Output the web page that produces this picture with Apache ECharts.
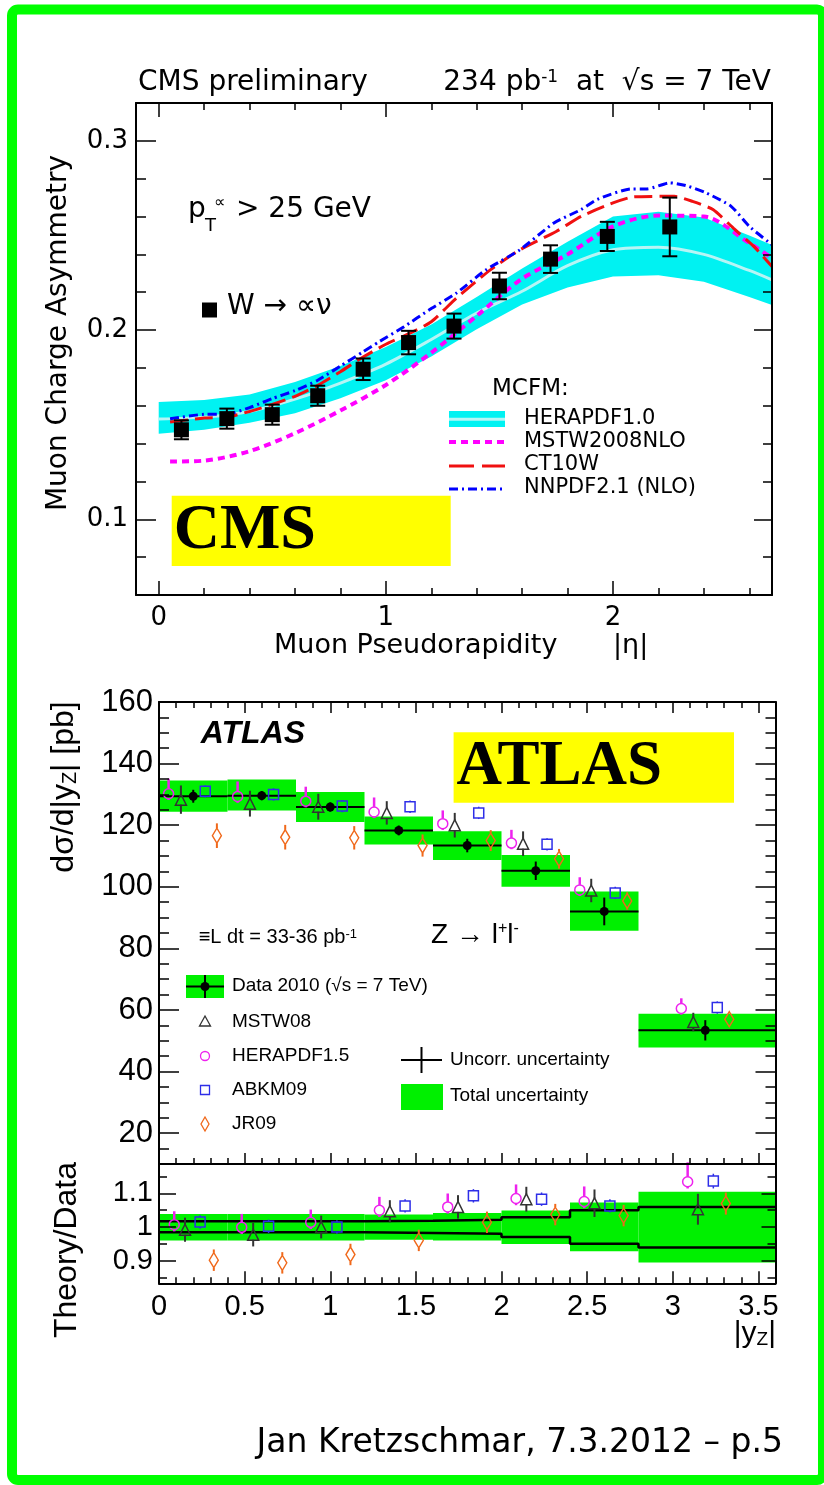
<!DOCTYPE html>
<html>
<head>
<meta charset="utf-8">
<title>W charge asymmetry and Z rapidity</title>
<script src="https://cdn.jsdelivr.net/npm/echarts@6.0.0/dist/echarts.min.js"></script>
<style>
html,body{margin:0;padding:0;background:#fff;}
#main{width:824px;height:1485px;}
</style>
</head>
<body>
<div id="main"></div>
<script>
// ---------- CMS: muon charge asymmetry ----------
var cmsEta  = [0.1, 0.3, 0.5, 0.7, 0.9, 1.1, 1.3, 1.5, 1.725, 1.975, 2.25];
var cmsAsym = [0.1473, 0.1532, 0.1553, 0.1653, 0.1793, 0.1934, 0.2021, 0.2233, 0.2375, 0.2495, 0.2545];
var cmsErr  = [0.0050, 0.0053, 0.0053, 0.0053, 0.0057, 0.0062, 0.0066, 0.0070, 0.0073, 0.0077, 0.0155];

// HERAPDF1.0 band
var heraEta  = [0, 0.2, 0.4, 0.6, 0.8, 1.0, 1.2, 1.4, 1.6, 1.8, 2.0, 2.2, 2.4, 2.6, 2.7];
var heraUp   = [0.162, 0.163, 0.166, 0.1725, 0.181, 0.191, 0.203, 0.2175, 0.2325, 0.2467, 0.260, 0.2625, 0.2595, 0.250, 0.245];
var heraMid  = [0.153, 0.154, 0.157, 0.1635, 0.172, 0.182, 0.195, 0.209, 0.2205, 0.234, 0.2424, 0.2438, 0.240, 0.2315, 0.2265];
var heraDown = [0.1452, 0.1473, 0.151, 0.156, 0.164, 0.1735, 0.186, 0.2005, 0.2135, 0.2225, 0.2283, 0.229, 0.2255, 0.2175, 0.2133];

var mstwEta = [0.05, 0.2, 0.4, 0.6, 0.8, 1.0, 1.2, 1.4, 1.6, 1.8, 2.0, 2.2, 2.4, 2.6, 2.7];
var mstwA   = [0.1305, 0.131, 0.136, 0.1455, 0.1575, 0.171, 0.188, 0.2075, 0.2272, 0.240, 0.2548, 0.2605, 0.2600, 0.246, 0.238];

var ct10Eta = [0.05, 0.2, 0.3, 0.4, 0.5, 0.6, 0.7, 0.8, 0.9, 1.0, 1.1, 1.2, 1.31, 1.46, 1.59, 1.75, 1.86, 2.0, 2.09, 2.27, 2.35, 2.44, 2.53, 2.62, 2.7];
var ct10A   = [0.1514, 0.1535, 0.154, 0.157, 0.1607, 0.165, 0.1708, 0.178, 0.1858, 0.1925, 0.198, 0.2044, 0.2168, 0.2318, 0.2424, 0.2521, 0.2601, 0.2672, 0.2704, 0.2707, 0.268, 0.2637, 0.2539, 0.2442, 0.2336];

var nnEta = [0.05, 0.2, 0.3, 0.4, 0.5, 0.6, 0.7, 0.8, 0.9, 0.97, 1.08, 1.19, 1.31, 1.44, 1.59, 1.74, 1.86, 1.93, 2.08, 2.15, 2.25, 2.32, 2.41, 2.52, 2.6, 2.7];
var nnA   = [0.1531, 0.1555, 0.1556, 0.159, 0.1638, 0.168, 0.1735, 0.181, 0.1885, 0.1938, 0.2018, 0.2106, 0.2195, 0.2318, 0.2424, 0.2566, 0.2637, 0.269, 0.2746, 0.2746, 0.2778, 0.2764, 0.2725, 0.2654, 0.2548, 0.2451];

var cmsXMajor = [0, 1, 2];
var cmsXMinor = [0.2, 0.4, 0.6, 0.8, 1.2, 1.4, 1.6, 1.8, 2.2, 2.4, 2.6];
var cmsYMajor = [0.1, 0.2, 0.3];
var cmsYMinor = [0.08, 0.12, 0.14, 0.16, 0.18, 0.22, 0.24, 0.26, 0.28];

// ---------- ATLAS: Z rapidity ----------
var binLo = [0, 0.4, 0.8, 1.2, 1.6, 2.0, 2.4, 2.8];
var binHi = [0.4, 0.8, 1.2, 1.6, 2.0, 2.4, 2.8, 3.6];
var dataX  = [0.2, 0.6, 1.0, 1.4, 1.8, 2.2, 2.6, 3.19];
var dataY  = [129.4, 129.6, 125.9, 118.3, 113.4, 105.2, 92.0, 53.4];
var dataUnc = [2.1, 1.5, 1.5, 1.6, 2.2, 3.0, 4.5, 3.3];
var totHi  = [134.5, 134.8, 130.8, 122.8, 118.0, 110.3, 98.5, 58.8];
var totLo  = [124.4, 124.8, 121.0, 113.7, 108.7, 100.0, 85.7, 47.8];

var herX  = [0.056, 0.459, 0.857, 1.256, 1.657, 2.058, 2.457, 3.05];
var herY  = [130.2, 129.3, 127.8, 124.3, 120.5, 114.2, 99.0, 60.5];
var herUp = [4.9, 4.9, 4.7, 4.7, 4.3, 4.3, 4.1, 3.3];
var herDn = [2.0, 2.0, 2.0, 2.0, 2.0, 2.0, 2.0, 2.0];
var mstwX = [0.128, 0.531, 0.93, 1.33, 1.727, 2.126, 2.524, 3.12];
var mstwY = [128.3, 127.0, 126.0, 124.0, 120.0, 114.0, 98.8, 56.1];
var mstwE = [4.6, 4.2, 4.2, 3.8, 4.0, 4.0, 3.8, 3.0];
var abkmX = [0.27, 0.669, 1.07, 1.466, 1.867, 2.266, 2.664, 3.26];
var abkmY = [131.0, 130.0, 126.2, 126.0, 124.0, 113.8, 98.0, 60.8];
var abkmE = [2.0, 2.0, 2.0, 2.0, 2.0, 2.0, 2.0, 2.0];
var jrX   = [0.338, 0.737, 1.14, 1.539, 1.937, 2.336, 2.734, 3.33];
var jrY   = [116.6, 116.1, 115.9, 113.4, 115.0, 109.1, 95.4, 57.0];
var jrE   = [4.0, 4.0, 3.8, 3.6, 3.4, 3.2, 2.8, 2.4];

// ratio pad
var rTotHi = [1.039, 1.039, 1.039, 1.037, 1.042, 1.049, 1.073, 1.105];
var rTotLo = [0.960, 0.960, 0.960, 0.962, 0.960, 0.949, 0.928, 0.894];
var rUncHi = [1.017, 1.017, 1.017, 1.019, 1.022, 1.029, 1.050, 1.060];
var rUncLo = [0.984, 0.984, 0.984, 0.982, 0.980, 0.970, 0.950, 0.939];

var rHerX  = [0.089, 0.483, 0.886, 1.287, 1.686, 2.085, 2.483, 3.087];
var rHerY  = [1.007, 0.999, 1.014, 1.050, 1.060, 1.085, 1.076, 1.135];
var rHerUp = [0.040, 0.040, 0.038, 0.040, 0.040, 0.042, 0.045, 0.058];
var rHerDn = [0.020, 0.020, 0.020, 0.020, 0.020, 0.020, 0.020, 0.020];
var rMstwX = [0.152, 0.55, 0.947, 1.348, 1.746, 2.145, 2.543, 3.147];
var rMstwY = [0.992, 0.977, 1.000, 1.047, 1.060, 1.083, 1.071, 1.053];
var rMstwE = [0.036, 0.035, 0.034, 0.033, 0.035, 0.037, 0.041, 0.046];
var rAbkmX = [0.24, 0.64, 1.039, 1.437, 1.836, 2.234, 2.633, 3.237];
var rAbkmY = [1.015, 1.002, 1.000, 1.063, 1.093, 1.083, 1.063, 1.137];
var rAbkmE = [0.020, 0.020, 0.020, 0.020, 0.020, 0.020, 0.020, 0.022];
var rJrX   = [0.32, 0.72, 1.118, 1.517, 1.915, 2.314, 2.713, 3.31];
var rJrY   = [0.901, 0.893, 0.918, 0.960, 1.014, 1.037, 1.034, 1.070];
var rJrE   = [0.032, 0.032, 0.032, 0.032, 0.032, 0.032, 0.032, 0.033];

var atXMajor = [0, 0.5, 1, 1.5, 2, 2.5, 3, 3.5];
var atXMinor = [0.1, 0.2, 0.3, 0.4, 0.6, 0.7, 0.8, 0.9, 1.1, 1.2, 1.3, 1.4, 1.6, 1.7, 1.8, 1.9,
                2.1, 2.2, 2.3, 2.4, 2.6, 2.7, 2.8, 2.9, 3.1, 3.2, 3.3, 3.4];
var atYMajor = [20, 40, 60, 80, 100, 120, 140, 160];
var atYMinor = [15, 25, 30, 35, 45, 50, 55, 65, 70, 75, 85, 90, 95, 105, 110, 115, 125, 130, 135, 145, 150, 155];
var rYMajor = [0.9, 1, 1.1];
var rYMinor = [0.85, 0.95, 1.05, 1.15];

// ---------- helpers ----------
function pairs(xs, ys) {
	var out = [];
	for (var i = 0; i < xs.length; i++) out.push([xs[i], ys[i]]);
	return out;
}
function errRows(xs, ys, dn, up) {
	var out = [];
	for (var i = 0; i < xs.length; i++) out.push([xs[i], ys[i], ys[i] - dn[i], ys[i] + up[i]]);
	return out;
}
function boxRows(lo, hi) {
	var out = [];
	for (var i = 0; i < binLo.length; i++) out.push([binLo[i], binHi[i], lo[i], hi[i]]);
	return out;
}
function stepRows(vals) {
	var out = pairs(binLo, vals);
	out.push([binHi[binHi.length - 1], vals[vals.length - 1]]);
	return out;
}

// axis that only draws a frame side and/or ticks
function axis(grid, pos, min, max, ticks, len, line, label) {
	return {
		type: 'value', gridIndex: grid, position: pos, min: min, max: max, z: 10,
		axisLine: {show: line, onZero: false, lineStyle: {color: '#000', width: 2}},
		axisTick: {show: ticks.length > 0, inside: true, length: len, customValues: ticks.length ? ticks : undefined,
			lineStyle: {color: '#000', width: 1.5}},
		axisLabel: label ? Object.assign({show: true, customValues: ticks, color: '#000'}, label) : {show: false},
		splitLine: {show: false}
	};
}

function errBar(color, w, gap, cap) {
	return function (params, api) {
		var c = api.coord([api.value(0), api.value(1)]);
		var lo = api.coord([api.value(0), api.value(2)]);
		var hi = api.coord([api.value(0), api.value(3)]);
		var kids = [];
		function seg(x1, y1, x2, y2) {
			kids.push({type: 'line', shape: {x1: x1, y1: y1, x2: x2, y2: y2}, style: {stroke: color, lineWidth: w}});
		}
		if (hi[1] < c[1] - gap) seg(c[0], c[1] - gap, c[0], hi[1]);
		if (lo[1] > c[1] + gap) seg(c[0], c[1] + gap, c[0], lo[1]);
		if (cap) {
			seg(c[0] - cap, hi[1], c[0] + cap, hi[1]);
			seg(c[0] - cap, lo[1], c[0] + cap, lo[1]);
		}
		return {type: 'group', children: kids};
	};
}
function boxItem(color) {
	return function (params, api) {
		var p0 = api.coord([api.value(0), api.value(3)]);
		var p1 = api.coord([api.value(1), api.value(2)]);
		return {type: 'rect', shape: {x: p0[0], y: p0[1], width: p1[0] - p0[0], height: p1[1] - p0[1]}, style: {fill: color}};
	};
}
function hLineItem(params, api) {
	var p0 = api.coord([api.value(0), api.value(2)]);
	var p1 = api.coord([api.value(1), api.value(2)]);
	return {type: 'line', shape: {x1: p0[0], y1: p0[1], x2: p1[0], y2: p1[1]}, style: {stroke: '#000', lineWidth: 2}};
}
// whole band as one polygon: rows are [x, low, high]
function bandItem(color) {
	return function (params, api) {
		if (params.dataIndex !== 0) return null;
		var n = params.dataInsideLength;
		var pts = [], j;
		for (j = 0; j < n; j++) pts.push(api.coord([api.value(0, j), api.value(2, j)]));
		for (j = n - 1; j >= 0; j--) pts.push(api.coord([api.value(0, j), api.value(1, j)]));
		return {type: 'polygon', shape: {points: pts}, style: {fill: color}};
	};
}

var GREEN = '#00f000';
var CYAN = '#00f2f2';
var MAG = '#ee22ee', GRAY = '#333333', BLUE = '#2e2ee8', ORANGE = '#f0681a';
var SANS = 'Liberation Sans';
var WIDE = 'DejaVu Sans';

// ---------- axes ----------
var cmsLab = {fontFamily: WIDE, fontSize: 26};
var xAxes = [
	axis(0, 'bottom', -0.1, 2.7, cmsXMajor, 14, true, Object.assign({margin: 10, formatter: function (v) { return String(v); }}, cmsLab)),
	axis(0, 'bottom', -0.1, 2.7, cmsXMinor, 7, false),
	axis(0, 'top', -0.1, 2.7, cmsXMajor, 14, true),
	axis(0, 'top', -0.1, 2.7, cmsXMinor, 7, false),
	axis(1, 'bottom', 0, 3.6, atXMajor, 11, true),
	axis(1, 'bottom', 0, 3.6, atXMinor, 6, false),
	axis(1, 'top', 0, 3.6, atXMajor, 11, true),
	axis(1, 'top', 0, 3.6, atXMinor, 6, false),
	axis(2, 'bottom', 0, 3.6, atXMajor, 12, true, {margin: 9, fontFamily: SANS, fontSize: 29, formatter: function (v) { return String(v); }}),
	axis(2, 'bottom', 0, 3.6, atXMinor, 6, false),
	axis(2, 'top', 0, 3.6, [], 0, true)
];
var yAxes = [
	axis(0, 'left', 0.06, 0.32, cmsYMajor, 20, true, Object.assign({margin: 8, formatter: function (v) { return v.toFixed(1); }}, cmsLab)),
	axis(0, 'left', 0.06, 0.32, cmsYMinor, 10, false),
	axis(0, 'right', 0.06, 0.32, cmsYMajor, 18, true),
	axis(0, 'right', 0.06, 0.32, cmsYMinor, 9, false),
	axis(1, 'left', 10, 160, atYMajor, 20, true, {margin: 6, fontFamily: SANS, fontSize: 31}),
	axis(1, 'left', 10, 160, atYMinor, 10, false),
	axis(1, 'right', 10, 160, atYMajor, 20, true),
	axis(1, 'right', 10, 160, atYMinor, 10, false),
	axis(2, 'left', 0.832, 1.188, rYMajor, 17, true, {margin: 6, fontFamily: SANS, fontSize: 29, formatter: function (v) { return String(v); }}),
	axis(2, 'left', 0.832, 1.188, rYMinor, 8, false),
	axis(2, 'right', 0.832, 1.188, rYMajor, 14, true),
	axis(2, 'right', 0.832, 1.188, rYMinor, 8, false)
];

// ---------- series ----------
var bandRows = [];
for (var i = 0; i < heraEta.length; i++) bandRows.push([heraEta[i], heraDown[i], heraUp[i]]);

function openMarker(name, xi, yi, xs, ys, symbol, size, color) {
	return {name: name, type: 'scatter', xAxisIndex: xi, yAxisIndex: yi, data: pairs(xs, ys), symbol: symbol, symbolSize: size, z: 6,
		itemStyle: {color: 'rgba(0,0,0,0)', borderColor: color, borderWidth: 1.5, opacity: 1}, silent: true};
}
function errSeries(xi, yi, rows, color, w, gap, cap, z) {
	return {type: 'custom', xAxisIndex: xi, yAxisIndex: yi, data: rows, renderItem: errBar(color, w, gap, cap),
		encode: {x: 0, y: [1, 2, 3]}, z: z || 5, silent: true};
}

var series = [
	// CMS band
	{name: 'HERAPDF1.0', type: 'custom', xAxisIndex: 0, yAxisIndex: 0, data: bandRows, renderItem: bandItem(CYAN),
		encode: {x: 0, y: [1, 2]}, z: 1, silent: true},
	{type: 'line', xAxisIndex: 0, yAxisIndex: 0, data: pairs(heraEta, heraMid), smooth: 0.3, symbol: 'none',
		lineStyle: {color: '#b6f5f5', width: 3}, z: 2, silent: true},
	{name: 'MSTW2008NLO', type: 'line', xAxisIndex: 0, yAxisIndex: 0, data: pairs(mstwEta, mstwA), smooth: 0.3, symbol: 'none',
		lineStyle: {color: '#ff00ff', width: 4, type: [7, 5]}, z: 3, silent: true},
	{name: 'CT10W', type: 'line', xAxisIndex: 0, yAxisIndex: 0, data: pairs(ct10Eta, ct10A), smooth: 0.2, symbol: 'none',
		lineStyle: {color: '#f01010', width: 3, type: [18, 7]}, z: 3, silent: true},
	{name: 'NNPDF2.1 (NLO)', type: 'line', xAxisIndex: 0, yAxisIndex: 0, data: pairs(nnEta, nnA), smooth: 0.2, symbol: 'none',
		lineStyle: {color: '#0000ff', width: 3, type: [9, 4, 2, 4]}, z: 3, silent: true},
	errSeries(0, 0, errRows(cmsEta, cmsAsym, cmsErr, cmsErr), '#000', 2, 0, 7.5, 4),
	{name: 'W', type: 'scatter', xAxisIndex: 0, yAxisIndex: 0, data: pairs(cmsEta, cmsAsym), symbol: 'rect', symbolSize: 15,
		itemStyle: {color: '#000', opacity: 1}, z: 5, silent: true},

	// ATLAS main
	{type: 'custom', xAxisIndex: 4, yAxisIndex: 4, data: boxRows(totLo, totHi), renderItem: boxItem(GREEN),
		encode: {x: [0, 1], y: [2, 3]}, z: 1, silent: true},
	{type: 'custom', xAxisIndex: 4, yAxisIndex: 4, data: boxRows(dataY, dataY), renderItem: hLineItem,
		encode: {x: [0, 1], y: [2, 3]}, z: 2, silent: true},
	errSeries(4, 4, errRows(herX, herY, herDn, herUp), MAG, 2.5, 5, 0),
	errSeries(4, 4, errRows(mstwX, mstwY, mstwE, mstwE), GRAY, 2, 5, 0),
	errSeries(4, 4, errRows(abkmX, abkmY, abkmE, abkmE), BLUE, 1.5, 5, 0),
	errSeries(4, 4, errRows(jrX, jrY, jrE, jrE), ORANGE, 2, 7.5, 0),
	openMarker('HERAPDF1.5', 4, 4, herX, herY, 'circle', 10, MAG),
	openMarker('MSTW08', 4, 4, mstwX, mstwY, 'triangle', 11, GRAY),
	openMarker('ABKM09', 4, 4, abkmX, abkmY, 'rect', 10, BLUE),
	openMarker('JR09', 4, 4, jrX, jrY, 'diamond', [9, 15], ORANGE),
	errSeries(4, 4, errRows(dataX, dataY, dataUnc, dataUnc), '#000', 2, 0, 0, 7),
	{name: 'Data 2010', type: 'scatter', xAxisIndex: 4, yAxisIndex: 4, data: pairs(dataX, dataY), symbol: 'circle', symbolSize: 9,
		itemStyle: {color: '#000', opacity: 1}, z: 8, silent: true},

	// ratio pad
	{type: 'custom', xAxisIndex: 8, yAxisIndex: 8, data: boxRows(rTotLo, rTotHi), renderItem: boxItem(GREEN),
		encode: {x: [0, 1], y: [2, 3]}, z: 1, silent: true},
	{type: 'line', xAxisIndex: 8, yAxisIndex: 8, data: stepRows(rUncHi), step: 'end', symbol: 'none',
		lineStyle: {color: '#000', width: 2.5}, z: 2, silent: true},
	{type: 'line', xAxisIndex: 8, yAxisIndex: 8, data: stepRows(rUncLo), step: 'end', symbol: 'none',
		lineStyle: {color: '#000', width: 2.5}, z: 2, silent: true},
	errSeries(8, 8, errRows(rHerX, rHerY, rHerDn, rHerUp), MAG, 2.5, 5, 0),
	errSeries(8, 8, errRows(rMstwX, rMstwY, rMstwE, rMstwE), GRAY, 2, 5, 0),
	errSeries(8, 8, errRows(rAbkmX, rAbkmY, rAbkmE, rAbkmE), BLUE, 1.5, 5, 0),
	errSeries(8, 8, errRows(rJrX, rJrY, rJrE, rJrE), ORANGE, 2, 7.5, 0),
	openMarker('HERAPDF1.5', 8, 8, rHerX, rHerY, 'circle', 10, MAG),
	openMarker('MSTW08', 8, 8, rMstwX, rMstwY, 'triangle', 11, GRAY),
	openMarker('ABKM09', 8, 8, rAbkmX, rAbkmY, 'rect', 10, BLUE),
	openMarker('JR09', 8, 8, rJrX, rJrY, 'diamond', [9, 15], ORANGE)
];

// ---------- texts and legend drawings ----------
function txt(x, y, s, font, align, extra) {
	var st = {text: s, font: font, fill: '#000', textAlign: align || 'left', align: align || 'left',
		textVerticalAlign: 'middle', verticalAlign: 'middle'};
	var el = {type: 'text', x: x, y: y, z: 30, silent: true, style: st};
	if (extra) {
		if (extra.rich) st.rich = extra.rich;
		if (extra.rotation) el.rotation = extra.rotation;
	}
	return el;
}
function richSet(family, size, small, smallSize) {
	return {
		m: {fontFamily: family, fontSize: size, fill: '#000', color: '#000'},
		sup: {fontFamily: family, fontSize: smallSize, fill: '#000', color: '#000', verticalAlign: 'top'},
		sub: {fontFamily: family, fontSize: smallSize, fill: '#000', color: '#000', verticalAlign: 'bottom'}
	};
}
function ln(x1, y1, x2, y2, color, w, dash) {
	var st = {stroke: color, lineWidth: w};
	if (dash) st.lineDash = dash;
	return {type: 'line', z: 30, silent: true, shape: {x1: x1, y1: y1, x2: x2, y2: y2}, style: st};
}
function box(x, y, w, h, fill) {
	return {type: 'rect', z: 29, silent: true, shape: {x: x, y: y, width: w, height: h}, style: {fill: fill}};
}

var graphics = [
	{type: 'rect', z: 40, silent: true, shape: {x: 12, y: 9.5, width: 811, height: 1470.5, r: 6},
		style: {fill: 'none', stroke: '#00ff00', lineWidth: 10}},

	// CMS header and annotations
	txt(138, 83, 'CMS preliminary', '28px "DejaVu Sans"'),
	txt(771, 83, '{m|234 pb}{sup|-1}{m|  at  √s = 7 TeV}', '28px "DejaVu Sans"', 'right', {rich: richSet(WIDE, 28, true, 17)}),
	txt(188, 210, 'p', '28px "DejaVu Sans"'),
	txt(205, 226, 'T', '18px "DejaVu Sans"'),
	txt(214, 203, '∝', '16px "DejaVu Sans"'),
	txt(236, 210, '> 25 GeV', '28px "DejaVu Sans"'),
	box(202, 302.5, 15, 15, '#000'),
	txt(227, 307, 'W → ∝ν', '28px "DejaVu Sans"'),
	txt(492, 389, 'MCFM:', '23px "DejaVu Sans"'),
	box(449, 411, 56, 16, CYAN),
	ln(449, 419.3, 505, 419.3, '#b6f5f5', 3),
	ln(449, 442, 505, 442, '#ff00ff', 4, [7, 5]),
	ln(449, 466, 505, 466, '#f01010', 3, [25, 8]),
	ln(449, 489, 505, 489, '#0000ff', 3, [9, 4, 2, 4]),
	txt(524, 419, 'HERAPDF1.0', '21px "DejaVu Sans"'),
	txt(524, 442, 'MSTW2008NLO', '21px "DejaVu Sans"'),
	txt(524, 465, 'CT10W', '21px "DejaVu Sans"'),
	txt(524, 488, 'NNPDF2.1 (NLO)', '21px "DejaVu Sans"'),
	box(171.7, 495.7, 279, 70.3, '#ffff00'),
	txt(173.7, 531, 'CMS', 'bold 64px "Liberation Serif"'),
	txt(274, 646, 'Muon Pseudorapidity', '27px "DejaVu Sans"'),
	txt(613, 646, '|η|', '27px "DejaVu Sans"'),
	txt(58.5, 333, 'Muon Charge Asymmetry', '28px "DejaVu Sans"', 'center', {rotation: Math.PI / 2}),

	// ATLAS main annotations
	txt(200.8, 734.5, 'ATLAS', 'italic bold 32px "Liberation Sans"'),
	box(453.6, 732.3, 280.4, 70.4, '#ffff00'),
	txt(456.6, 767.5, 'ATLAS', 'bold 63px "Liberation Serif"'),
	txt(198.7, 937.5, '{m|≡L dt = 33-36 pb}{sup|-1}', '20px "Liberation Sans"', 'left', {rich: richSet(SANS, 20, true, 13)}),
	txt(431, 935, '{m|Z → l}{sup|+}{m|l}{sup|-}', '28px "Liberation Sans"', 'left', {rich: richSet(SANS, 28, true, 16)}),
	txt(64, 787, '{m|dσ/d|y}{sub|Z}{m|| [pb]}', '32px "Liberation Sans"', 'center', {rotation: Math.PI / 2, rich: richSet(SANS, 32, true, 20)}),

	// ATLAS legend
	box(186, 975, 38, 23, GREEN),
	ln(186, 986.5, 224, 986.5, '#000', 2),
	ln(205, 975, 205, 998, '#000', 2),
	{type: 'circle', z: 31, silent: true, shape: {cx: 205, cy: 986.5, r: 4.5}, style: {fill: '#000'}},
	{type: 'polygon', z: 31, silent: true, shape: {points: [[205, 1016], [210.5, 1026], [199.5, 1026]]}, style: {fill: 'none', stroke: GRAY, lineWidth: 1.3}},
	{type: 'circle', z: 31, silent: true, shape: {cx: 205, cy: 1056, r: 4.5}, style: {fill: 'none', stroke: MAG, lineWidth: 1.3}},
	{type: 'rect', z: 31, silent: true, shape: {x: 200.5, y: 1085.5, width: 9, height: 9}, style: {fill: 'none', stroke: BLUE, lineWidth: 1.3}},
	{type: 'polygon', z: 31, silent: true, shape: {points: [[205, 1117], [209, 1124], [205, 1131], [201, 1124]]}, style: {fill: 'none', stroke: ORANGE, lineWidth: 1.3}},
	txt(232, 986, 'Data 2010 (√s = 7 TeV)', '19px "Liberation Sans"'),
	txt(232, 1021.7, 'MSTW08', '19px "Liberation Sans"'),
	txt(232, 1056, 'HERAPDF1.5', '19px "Liberation Sans"'),
	txt(232, 1090, 'ABKM09', '19px "Liberation Sans"'),
	txt(232, 1124, 'JR09', '19px "Liberation Sans"'),
	ln(401, 1060, 442, 1060, '#000', 2),
	ln(421.5, 1047, 421.5, 1073, '#000', 2),
	box(401, 1084, 42, 26, GREEN),
	txt(450, 1060, 'Uncorr. uncertainty', '19px "Liberation Sans"'),
	txt(450, 1096, 'Total uncertainty', '19px "Liberation Sans"'),

	// ratio pad titles
	txt(67.5, 1250, 'Theory/Data', '32px "Liberation Sans"', 'center', {rotation: Math.PI / 2}),
	txt(776, 1334, '{m||y}{sub|Z}{m||}', '30px "Liberation Sans"', 'right', {rich: richSet(SANS, 30, true, 19)}),

	// footer
	txt(783, 1443, 'Jan Kretzschmar, 7.3.2012 – p.5', '33px "DejaVu Sans"', 'right')
];

var myChart = echarts.init(document.getElementById('main'), null, {renderer: 'canvas'});
myChart.setOption({
	backgroundColor: '#fff',
	animation: false,
	grid: [
		{left: 136, top: 103, width: 636, height: 492},
		{left: 159, top: 702, width: 616.5, height: 462},
		{left: 159, top: 1164, width: 616.5, height: 119.3}
	],
	xAxis: xAxes,
	yAxis: yAxes,
	series: series,
	graphic: {elements: graphics}
});
</script>
</body>
</html>
